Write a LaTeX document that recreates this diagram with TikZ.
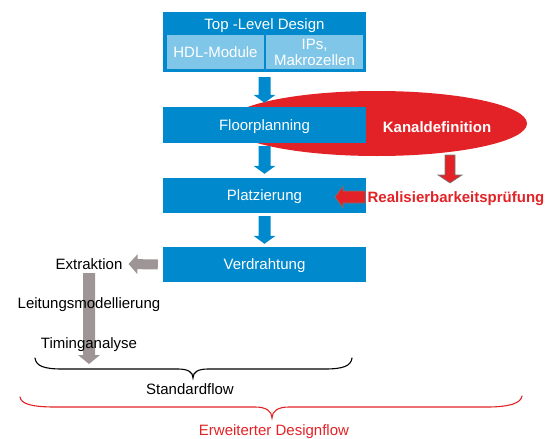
\documentclass[tikz,border=0pt]{standalone}
\usepackage{fontspec}
\setmainfont{Liberation Sans}
\usetikzlibrary{calc,shapes.geometric}

\definecolor{flowblue}{RGB}{0,137,204}
\definecolor{lightblue}{RGB}{128,198,232}
\definecolor{flowred}{RGB}{226,34,38}
\definecolor{flowgray}{RGB}{158,150,150}
\definecolor{edgegray}{RGB}{120,120,120}

% block arrow: #1 style, #2 start, #3 tip, #4 half shaft width, #5 half head width, #6 head length
\newcommand{\blockarrow}[6]{%
  \coordinate (ahb) at ($(#3)!#6!(#2)$);
  \path[#1] ($(#2)!#4!90:(#3)$) -- ($(ahb)!#4!90:(#3)$) -- ($(ahb)!#5!90:(#3)$)
    -- (#3) -- ($(ahb)!#5!-90:(#3)$) -- ($(ahb)!#4!-90:(#3)$)
    -- ($(#2)!#4!-90:(#3)$) -- cycle;
}

\tikzset{
  txt/.style={font=\fontsize{15}{16}\selectfont, inner sep=0pt},
  oneline/.style={text height=10.7pt, text depth=0pt},
  bluebox/.style={fill=flowblue, draw=none, minimum width=203pt, txt, oneline, text=white},
  lightbox/.style={fill=lightblue, draw=none, minimum width=97pt, minimum height=34pt, txt, text=white, align=center},
  bluearrow/.style={fill=flowblue},
  grayarrow/.style={fill=flowgray},
  redarrow/.style={fill=flowred, draw=edgegray, line width=0.6pt},
  brace/.style={line width=1.1pt, line cap=round},
}

\begin{document}
\begin{tikzpicture}[x=1pt,y=-1pt]
\useasboundingbox (0,0) rectangle (557,439);

% channel definition ellipse behind the flow
\node[ellipse, fill=flowred, minimum width=300pt, minimum height=65pt, inner sep=0pt] (chan) at (377,123.5) {};

% top level design block
\node[bluebox, minimum height=60pt] (top) at (264.5,42) {};
\node[txt, oneline, text=white] (title) at (264.5,24) {Top -Level Design};
\node[lightbox, oneline] (hdl) at (215.5,52) {HDL-Module};
\node[lightbox] (ips) at (314.5,52) {IPs,\\Makrozellen};

% main flow steps
\node[bluebox, minimum height=36pt] (floor) at (264.5,125) {Floorplanning};
\node[bluebox, minimum height=35pt] (platz) at (264.5,195.5) {Platzierung};
\node[bluebox, minimum height=35pt] (verd) at (264.5,264.5) {Verdrahtung};

\node[txt, oneline, text=white, font=\fontsize{15}{16}\selectfont\bfseries] (kanal) at (437,127) {Kanaldefinition};
\node[txt, oneline, text=flowred, font=\fontsize{15}{16}\selectfont\bfseries] (realis) at (456,197) {Realisierbarkeitsprüfung};

% arrows between the steps
\coordinate (a1s) at ([yshift=-5pt]top.south);
\coordinate (a1e) at ([yshift=4pt]floor.north);
\coordinate (a2s) at ([yshift=-3pt]floor.south);
\coordinate (a2e) at ([yshift=4pt]platz.north);
\coordinate (a3s) at ([yshift=-3pt]platz.south);
\coordinate (a3e) at ([yshift=3pt]verd.north);
\blockarrow{bluearrow}{a1s}{a1e}{6pt}{11pt}{8pt}
\blockarrow{bluearrow}{a2s}{a2e}{6pt}{11pt}{8pt}
\blockarrow{bluearrow}{a3s}{a3e}{6pt}{11pt}{8pt}

% feasibility check arrows
\coordinate (r1s) at (450,155);
\coordinate (r1e) at (450,183);
\coordinate (r2s) at ([xshift=-2pt]realis.west);
\coordinate (r2e) at (335,197);
\blockarrow{redarrow}{r1s}{r1e}{5pt}{12pt}{8pt}
\blockarrow{redarrow}{r2s}{r2e}{6pt}{11pt}{8pt}

% extraction branch
\node[txt, oneline] (extr) at (89,264) {Extraktion};
\coordinate (g1s) at ([xshift=-5pt]verd.west);
\coordinate (g1e) at ([xshift=6pt]extr.east);
\blockarrow{grayarrow}{g1s}{g1e}{5pt}{10pt}{9pt}
\coordinate (g2s) at (89,273);
\coordinate (g2e) at (89,364);
\blockarrow{grayarrow}{g2s}{g2e}{6pt}{11pt}{9pt}
\node[txt, oneline] (leit) at (89,303) {Leitungsmodellierung};
\node[txt, oneline] (timing) at (89,343) {Timinganalyse};

% standard flow brace
\coordinate (b1l) at (35,358);
\coordinate (b1t) at (193,378);
\coordinate (b1r) at (352,358);
\draw[brace] (b1l) .. controls (36,366) and (44,369) .. (62,369) -- (178,369)
  .. controls (188,369) and (193,372) .. (b1t)
  .. controls (193,372) and (198,369) .. (208,369) -- (325,369)
  .. controls (343,369) and (351,366) .. (b1r);
\node[txt, oneline] (std) at (190,389) {Standardflow};

% extended design flow brace
\coordinate (b2l) at (20,397);
\coordinate (b2t) at (272,418);
\coordinate (b2r) at (522,396);
\draw[brace, flowred] (b2l) .. controls (21,404) and (32,407) .. (55,407) -- (255,407)
  .. controls (266,407) and (272,411) .. (b2t)
  .. controls (272,411) and (278,407) .. (289,407) -- (487,407)
  .. controls (510,407) and (521,403) .. (b2r);
\node[txt, oneline, text=flowred] (ext) at (274,430) {Erweiterter Designflow};
\end{tikzpicture}
\end{document}
